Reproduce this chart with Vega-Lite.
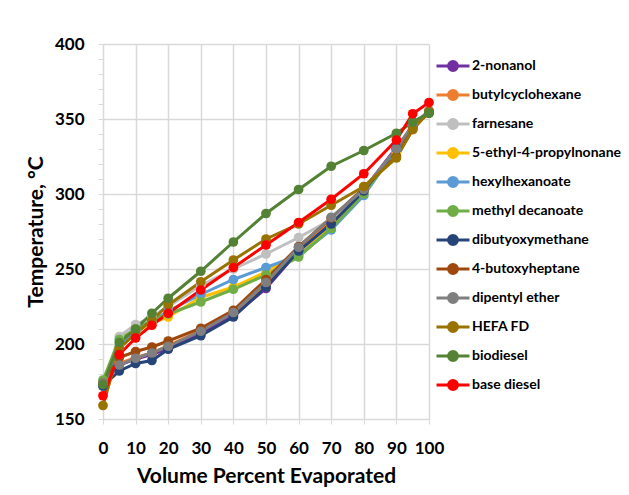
{
  "$schema": "https://vega.github.io/schema/vega-lite/v6.json",
  "width": 326,
  "height": 375,
  "autosize": {"type": "none"},
  "padding": {"left": 103, "top": 44, "right": 200, "bottom": 76},
  "background": "white",
  "config": {
    "view": {"stroke": null},
    "font": "Lato",
    "axis": {
      "domainColor": "#D9D9D9",
      "gridColor": "#D9D9D9",
      "gridWidth": 1.5,
      "tickColor": "#D9D9D9",
      "labelColor": "#000000",
      "titleColor": "#000000",
      "labelFont": "Lato",
      "titleFont": "Lato",
      "labelFontWeight": "bold",
      "titleFontWeight": "bold",
      "labelFontSize": 17,
      "titleFontSize": 21
    }
  },
  "datasets": {
    "d": [
      {"series": "2-nonanol", "x": 0, "t": 174}, {"series": "2-nonanol", "x": 5, "t": 186}, {"series": "2-nonanol", "x": 10, "t": 190}, {"series": "2-nonanol", "x": 15, "t": 193}, {"series": "2-nonanol", "x": 20, "t": 197}, {"series": "2-nonanol", "x": 30, "t": 207}, {"series": "2-nonanol", "x": 40, "t": 219}, {"series": "2-nonanol", "x": 50, "t": 237}, {"series": "2-nonanol", "x": 60, "t": 262}, {"series": "2-nonanol", "x": 70, "t": 281}, {"series": "2-nonanol", "x": 80, "t": 303}, {"series": "2-nonanol", "x": 90, "t": 331}, {"series": "2-nonanol", "x": 95, "t": 345}, {"series": "2-nonanol", "x": 100, "t": 355},
      {"series": "butylcyclohexane", "x": 0, "t": 173}, {"series": "butylcyclohexane", "x": 5, "t": 187}, {"series": "butylcyclohexane", "x": 10, "t": 191}, {"series": "butylcyclohexane", "x": 15, "t": 194}, {"series": "butylcyclohexane", "x": 20, "t": 199}, {"series": "butylcyclohexane", "x": 30, "t": 209}, {"series": "butylcyclohexane", "x": 40, "t": 221}, {"series": "butylcyclohexane", "x": 50, "t": 240}, {"series": "butylcyclohexane", "x": 60, "t": 264}, {"series": "butylcyclohexane", "x": 70, "t": 283}, {"series": "butylcyclohexane", "x": 80, "t": 303}, {"series": "butylcyclohexane", "x": 90, "t": 328}, {"series": "butylcyclohexane", "x": 95, "t": 344}, {"series": "butylcyclohexane", "x": 100, "t": 355},
      {"series": "farnesane", "x": 0, "t": 173}, {"series": "farnesane", "x": 5, "t": 205}, {"series": "farnesane", "x": 10, "t": 213}, {"series": "farnesane", "x": 15, "t": 218}, {"series": "farnesane", "x": 20, "t": 225}, {"series": "farnesane", "x": 30, "t": 239}, {"series": "farnesane", "x": 40, "t": 250}, {"series": "farnesane", "x": 50, "t": 260}, {"series": "farnesane", "x": 60, "t": 271}, {"series": "farnesane", "x": 70, "t": 283}, {"series": "farnesane", "x": 80, "t": 303}, {"series": "farnesane", "x": 90, "t": 330}, {"series": "farnesane", "x": 95, "t": 346}, {"series": "farnesane", "x": 100, "t": 356},
      {"series": "5-ethyl-4-propylnonane", "x": 0, "t": 172}, {"series": "5-ethyl-4-propylnonane", "x": 5, "t": 198}, {"series": "5-ethyl-4-propylnonane", "x": 10, "t": 208}, {"series": "5-ethyl-4-propylnonane", "x": 15, "t": 214}, {"series": "5-ethyl-4-propylnonane", "x": 20, "t": 218}, {"series": "5-ethyl-4-propylnonane", "x": 30, "t": 231}, {"series": "5-ethyl-4-propylnonane", "x": 40, "t": 238}, {"series": "5-ethyl-4-propylnonane", "x": 50, "t": 248}, {"series": "5-ethyl-4-propylnonane", "x": 60, "t": 261}, {"series": "5-ethyl-4-propylnonane", "x": 70, "t": 278}, {"series": "5-ethyl-4-propylnonane", "x": 80, "t": 301}, {"series": "5-ethyl-4-propylnonane", "x": 90, "t": 328}, {"series": "5-ethyl-4-propylnonane", "x": 95, "t": 344}, {"series": "5-ethyl-4-propylnonane", "x": 100, "t": 354},
      {"series": "hexylhexanoate", "x": 0, "t": 172}, {"series": "hexylhexanoate", "x": 5, "t": 198}, {"series": "hexylhexanoate", "x": 10, "t": 209}, {"series": "hexylhexanoate", "x": 15, "t": 215}, {"series": "hexylhexanoate", "x": 20, "t": 222}, {"series": "hexylhexanoate", "x": 30, "t": 233}, {"series": "hexylhexanoate", "x": 40, "t": 243}, {"series": "hexylhexanoate", "x": 50, "t": 251}, {"series": "hexylhexanoate", "x": 60, "t": 259}, {"series": "hexylhexanoate", "x": 70, "t": 276}, {"series": "hexylhexanoate", "x": 80, "t": 299}, {"series": "hexylhexanoate", "x": 90, "t": 330}, {"series": "hexylhexanoate", "x": 95, "t": 346}, {"series": "hexylhexanoate", "x": 100, "t": 355},
      {"series": "methyl decanoate", "x": 0, "t": 176}, {"series": "methyl decanoate", "x": 5, "t": 203}, {"series": "methyl decanoate", "x": 10, "t": 210}, {"series": "methyl decanoate", "x": 15, "t": 216}, {"series": "methyl decanoate", "x": 20, "t": 220}, {"series": "methyl decanoate", "x": 30, "t": 228}, {"series": "methyl decanoate", "x": 40, "t": 236.5}, {"series": "methyl decanoate", "x": 50, "t": 246}, {"series": "methyl decanoate", "x": 60, "t": 258}, {"series": "methyl decanoate", "x": 70, "t": 277}, {"series": "methyl decanoate", "x": 80, "t": 300}, {"series": "methyl decanoate", "x": 90, "t": 330}, {"series": "methyl decanoate", "x": 95, "t": 345}, {"series": "methyl decanoate", "x": 100, "t": 354},
      {"series": "dibutyoxymethane", "x": 0, "t": 172}, {"series": "dibutyoxymethane", "x": 5, "t": 182}, {"series": "dibutyoxymethane", "x": 10, "t": 187}, {"series": "dibutyoxymethane", "x": 15, "t": 189}, {"series": "dibutyoxymethane", "x": 20, "t": 196.5}, {"series": "dibutyoxymethane", "x": 30, "t": 205.5}, {"series": "dibutyoxymethane", "x": 40, "t": 218}, {"series": "dibutyoxymethane", "x": 50, "t": 238}, {"series": "dibutyoxymethane", "x": 60, "t": 262}, {"series": "dibutyoxymethane", "x": 70, "t": 280}, {"series": "dibutyoxymethane", "x": 80, "t": 302}, {"series": "dibutyoxymethane", "x": 90, "t": 330}, {"series": "dibutyoxymethane", "x": 95, "t": 345}, {"series": "dibutyoxymethane", "x": 100, "t": 354},
      {"series": "4-butoxyheptane", "x": 0, "t": 174}, {"series": "4-butoxyheptane", "x": 5, "t": 191}, {"series": "4-butoxyheptane", "x": 10, "t": 195}, {"series": "4-butoxyheptane", "x": 15, "t": 198}, {"series": "4-butoxyheptane", "x": 20, "t": 202}, {"series": "4-butoxyheptane", "x": 30, "t": 210.5}, {"series": "4-butoxyheptane", "x": 40, "t": 222.5}, {"series": "4-butoxyheptane", "x": 50, "t": 243}, {"series": "4-butoxyheptane", "x": 60, "t": 265}, {"series": "4-butoxyheptane", "x": 70, "t": 284}, {"series": "4-butoxyheptane", "x": 80, "t": 304}, {"series": "4-butoxyheptane", "x": 90, "t": 325}, {"series": "4-butoxyheptane", "x": 95, "t": 343}, {"series": "4-butoxyheptane", "x": 100, "t": 355},
      {"series": "dipentyl ether", "x": 0, "t": 174}, {"series": "dipentyl ether", "x": 5, "t": 186}, {"series": "dipentyl ether", "x": 10, "t": 190.5}, {"series": "dipentyl ether", "x": 15, "t": 194}, {"series": "dipentyl ether", "x": 20, "t": 198.5}, {"series": "dipentyl ether", "x": 30, "t": 208.5}, {"series": "dipentyl ether", "x": 40, "t": 221}, {"series": "dipentyl ether", "x": 50, "t": 241}, {"series": "dipentyl ether", "x": 60, "t": 264.5}, {"series": "dipentyl ether", "x": 70, "t": 284.5}, {"series": "dipentyl ether", "x": 80, "t": 303}, {"series": "dipentyl ether", "x": 90, "t": 330}, {"series": "dipentyl ether", "x": 95, "t": 346}, {"series": "dipentyl ether", "x": 100, "t": 355},
      {"series": "HEFA FD", "x": 0, "t": 159}, {"series": "HEFA FD", "x": 5, "t": 197}, {"series": "HEFA FD", "x": 10, "t": 207}, {"series": "HEFA FD", "x": 15, "t": 216}, {"series": "HEFA FD", "x": 20, "t": 226}, {"series": "HEFA FD", "x": 30, "t": 241.5}, {"series": "HEFA FD", "x": 40, "t": 256}, {"series": "HEFA FD", "x": 50, "t": 270}, {"series": "HEFA FD", "x": 60, "t": 280}, {"series": "HEFA FD", "x": 70, "t": 292.5}, {"series": "HEFA FD", "x": 80, "t": 305}, {"series": "HEFA FD", "x": 90, "t": 324}, {"series": "HEFA FD", "x": 95, "t": 343}, {"series": "HEFA FD", "x": 100, "t": 355},
      {"series": "biodiesel", "x": 0, "t": 173}, {"series": "biodiesel", "x": 5, "t": 201}, {"series": "biodiesel", "x": 10, "t": 210}, {"series": "biodiesel", "x": 15, "t": 220.5}, {"series": "biodiesel", "x": 20, "t": 230.5}, {"series": "biodiesel", "x": 30, "t": 248.5}, {"series": "biodiesel", "x": 40, "t": 268}, {"series": "biodiesel", "x": 50, "t": 287}, {"series": "biodiesel", "x": 60, "t": 303}, {"series": "biodiesel", "x": 70, "t": 318.5}, {"series": "biodiesel", "x": 80, "t": 329}, {"series": "biodiesel", "x": 90, "t": 340.5}, {"series": "biodiesel", "x": 95, "t": 348}, {"series": "biodiesel", "x": 100, "t": 354},
      {"series": "base diesel", "x": 0, "t": 165.5}, {"series": "base diesel", "x": 5, "t": 193}, {"series": "base diesel", "x": 10, "t": 204}, {"series": "base diesel", "x": 15, "t": 212.5}, {"series": "base diesel", "x": 20, "t": 220.5}, {"series": "base diesel", "x": 30, "t": 236}, {"series": "base diesel", "x": 40, "t": 251}, {"series": "base diesel", "x": 50, "t": 266}, {"series": "base diesel", "x": 60, "t": 281}, {"series": "base diesel", "x": 70, "t": 296.5}, {"series": "base diesel", "x": 80, "t": 313.5}, {"series": "base diesel", "x": 90, "t": 336}, {"series": "base diesel", "x": 95, "t": 353.5}, {"series": "base diesel", "x": 100, "t": 361}
    ]
  },
  "data": {"name": "d"},
  "encoding": {
    "x": {
      "field": "x", "type": "quantitative",
      "scale": {"domain": [0, 100], "nice": false, "zero": false},
      "axis": {
        "title": "Volume Percent Evaporated",
        "values": [0, 10, 20, 30, 40, 50, 60, 70, 80, 90, 100],
        "tickSize": 5, "labelPadding": 16, "titlePadding": 9,
        "labelFlush": false, "labelOverlap": false
      }
    },
    "y": {
      "field": "t", "type": "quantitative",
      "scale": {"domain": [150, 400], "nice": false, "zero": false},
      "axis": {
        "title": "Temperature, °C",
        "values": [150, 160, 170, 180, 190, 200, 210, 220, 230, 240, 250, 260, 270, 280, 290, 300, 310, 320, 330, 340, 350, 360, 370, 380, 390, 400],
        "labelOpacity": {"condition": {"test": "datum.value % 50 === 0", "value": 1}, "value": 0},
        "gridOpacity": {"condition": {"test": "datum.value % 50 === 0", "value": 1}, "value": 0},
        "tickSize": 5, "labelPadding": 14, "titlePadding": 8,
        "labelFlush": false, "labelOverlap": false
      }
    },
    "color": {
      "field": "series", "type": "nominal",
      "scale": {
        "domain": ["2-nonanol", "butylcyclohexane", "farnesane", "5-ethyl-4-propylnonane", "hexylhexanoate", "methyl decanoate", "dibutyoxymethane", "4-butoxyheptane", "dipentyl ether", "HEFA FD", "biodiesel", "base diesel"],
        "range": ["#7030A0", "#ED7D31", "#BFBFBF", "#FFC000", "#5B9BD5", "#70AD47", "#264478", "#9E480E", "#7F7F7F", "#997300", "#548235", "#FF0000"]
      },
      "legend": {
        "title": null,
        "orient": "none",
        "legendX": 332,
        "legendY": 4,
        "padding": 0,
        "symbolType": "M-1,0L1,0M-0.27,0A0.27,0.27,0,1,0,0.27,0A0.27,0.27,0,1,0,-0.27,0",
        "symbolSize": 1089,
        "symbolStrokeWidth": 3,
        "labelFont": "Lato",
        "labelFontSize": 14,
        "labelFontWeight": "bold",
        "labelColor": "#000000",
        "labelOffset": 1,
        "rowPadding": 0,
        "labelLimit": 300,
        "encode": {
          "symbols": {
            "update": {
              "fill": {"scale": "color", "field": "value"},
              "stroke": {"scale": "color", "field": "value"},
              "fillOpacity": {"value": 1},
              "opacity": {"value": 1}
            }
          }
        }
      }
    }
  },
  "mark": {"type": "line", "strokeWidth": 3, "point": {"filled": true, "size": 95, "opacity": 1}}
}
